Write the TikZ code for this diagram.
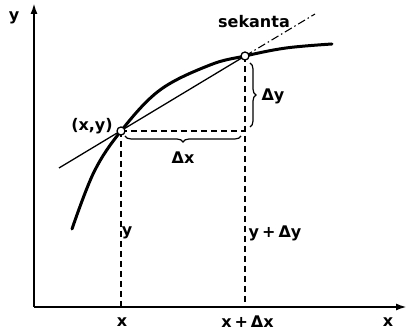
\documentclass[tikz,border=0pt]{standalone}
\usepackage{fontspec}
\setmainfont{DejaVu Sans}
\usepackage{tikz}
\usetikzlibrary{arrows.meta, positioning, decorations.pathreplacing}

\newcommand{\lblfont}{\fontsize{16}{19}\selectfont\bfseries\spaceskip 3pt\relax}

\begin{document}
\begin{tikzpicture}[
  x=1pt, y=1pt,
  axis/.style={line width=2pt, -{Latex[length=11pt, width=7pt]}},
  curve/.style={line width=3pt, line cap=round},
  sec/.style={line width=1.3pt},
  secx/.style={line width=1.1pt, dash pattern=on 8pt off 3pt on 1.5pt off 3pt},
  guide/.style={line width=1.6pt, dash pattern=on 6pt off 4pt},
  brace/.style={line width=1.2pt, decorate,
                decoration={brace, amplitude=6pt, mirror}},
  dot/.style={circle, draw=black, line width=1.3pt, fill=white,
              inner sep=0pt, minimum size=8pt},
  lbl/.style={font=\lblfont, inner sep=1pt}
]
\useasboundingbox (-34,-24) rectangle (374,307);

\coordinate (O) at (0,0);
\coordinate (P) at (87,176);
\coordinate (Q) at (211,251);
\coordinate (s0) at (25,139);
\coordinate (s1) at (281,293);

% axes
\draw[axis] (O) -- (0,304) coordinate (ytip);
\draw[axis] (O) -- (373,0) coordinate (xtip);
\node[lbl] (ylab) at (-20,289) {y};
\node[lbl] (xlab) at (354,-15) {x};

% guides
\draw[guide] (P) -- (P |- O);
\draw[guide] (Q) -- (Q |- O);
\draw[guide] (P) -- (P -| Q) coordinate (R);

% secant
\draw[sec] (s0) -- (Q);
\draw[secx] (Q) -- (s1);

% curve
\draw[curve] plot[smooth, tension=0.6] coordinates
  {(38,78) (60,135) (87,176) (126,217) (176,242) (211,251) (252,259) (298,263)};

% braces
\draw[brace] ([xshift=4pt, yshift=-5pt]P) -- ([xshift=-4pt, yshift=-5pt]R);
\draw[brace] ([xshift=5pt, yshift=4pt]R) -- ([xshift=5pt, yshift=-7pt]Q);

\node[dot] (Pc) at (P) {};
\node[dot] (Qc) at (Q) {};

% labels
\node[lbl] (pxy) at (58,181) {(x,y)};
\node[lbl] (sek) at (220,285) {sekanta};
\node[lbl] (dx) at (149,149) {Δx};
\node[lbl] (dy) at (239,211) {Δy};
\node[lbl] (ly) at (93,74) {y};
\node[lbl] (lyd) at (241,74) {y + Δy};
\node[lbl] (lx) at (88,-15) {x};
\node[lbl] (lxd) at (213.5,-15) {x + Δx};

\end{tikzpicture}
\end{document}
